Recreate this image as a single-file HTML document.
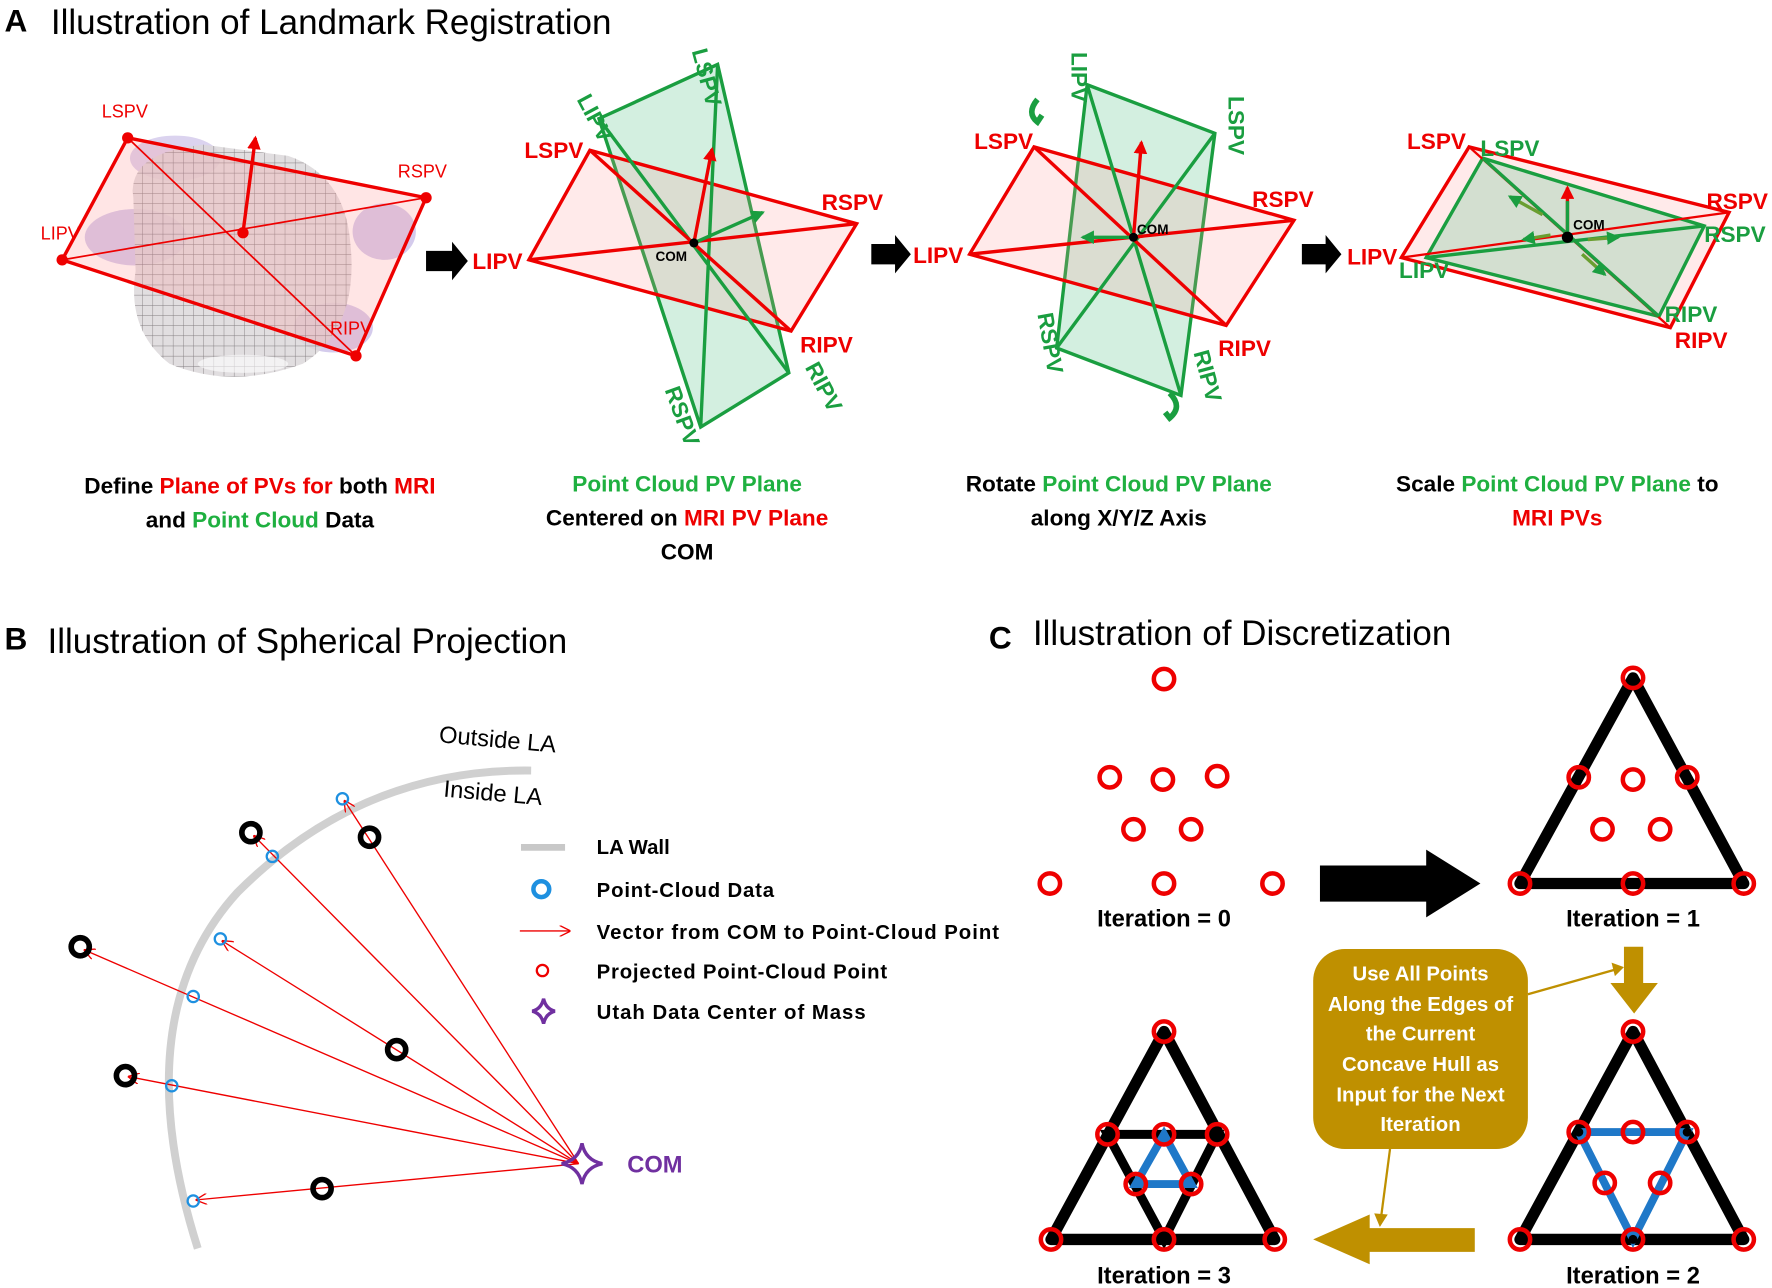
<!DOCTYPE html>
<html><head><meta charset="utf-8"><style>
html,body{margin:0;padding:0;background:#fff;}
svg{display:block;}
text{font-family:"Liberation Sans",sans-serif;}
</style></head><body>
<svg width="1772" height="1288" viewBox="0 0 1568 1140" preserveAspectRatio="none" xmlns="http://www.w3.org/2000/svg">
<defs>
<marker id="ra" markerWidth="10" markerHeight="10" refX="9" refY="5" orient="auto" markerUnits="userSpaceOnUse"><path d="M0,0 L10,5 L0,10" fill="none" stroke="#e00" stroke-width="1.2"/></marker>
<marker id="rb" markerWidth="12" markerHeight="12" refX="10" refY="6" orient="auto" markerUnits="userSpaceOnUse"><path d="M0,0 L12,6 L0,12 z" fill="#e00"/></marker>
<marker id="gb" markerWidth="12" markerHeight="12" refX="10" refY="6" orient="auto" markerUnits="userSpaceOnUse"><path d="M0,0 L12,6 L0,12 z" fill="#1a9e40"/></marker>
<pattern id="grid" width="9" height="9" patternUnits="userSpaceOnUse"><rect width="9" height="9" fill="#dcd8da"/><path d="M0,0 L9,0 M0,0 L0,9" stroke="#6a6468" stroke-width="0.8"/></pattern>
</defs>

<!-- Panel A -->
<text x="4" y="28" font-size="28" font-weight="bold">A</text>
<text x="45" y="30" font-size="31">Illustration of Landmark Registration</text>

<!-- sub 1 -->
<ellipse cx="120" cy="210" rx="45" ry="25" fill="#b8a8e0" opacity="0.6"/>
<ellipse cx="340" cy="205" rx="28" ry="25" fill="#b8a8e0" opacity="0.6"/>
<ellipse cx="295" cy="290" rx="35" ry="22" fill="#b8a8e0" opacity="0.6"/>
<ellipse cx="155" cy="140" rx="40" ry="20" fill="#b8a8e0" opacity="0.5"/>
<path d="M118,175 Q112,135 180,128 L255,138 Q305,155 310,215 Q318,290 268,322 Q205,345 150,322 Q112,292 120,240 Z" fill="url(#grid)" opacity="0.85"/>
<ellipse cx="215" cy="322" rx="40" ry="8" fill="#fff" opacity="0.6"/>
<g stroke="#e00" stroke-width="3" fill="rgba(255,150,150,0.25)">
<polygon points="113,122 377,175 315,315 55,230"/>
</g>
<g stroke="#e00" stroke-width="1.5"><line x1="113" y1="122" x2="315" y2="315"/><line x1="55" y1="230" x2="377" y2="175"/></g>
<line x1="215" y1="206" x2="226" y2="122" stroke="#e00" stroke-width="3" marker-end="url(#rb)"/>
<g fill="#e00"><circle cx="113" cy="122" r="5"/><circle cx="377" cy="175" r="5"/><circle cx="315" cy="315" r="5"/><circle cx="55" cy="230" r="5"/><circle cx="215" cy="206" r="5"/></g>
<g fill="#e00" font-size="16"><text x="90" y="104">LSPV</text><text x="352" y="157">RSPV</text><text x="36" y="212">LIPV</text><text x="292" y="296">RIPV</text></g>

<polygon points="377,222 400,222 400,214 414,231 400,248 400,240 377,240" fill="#000"/>

<!-- sub 2 -->
<polygon points="530,105 635,57 698,330 620,378" fill="rgba(80,190,130,0.25)" stroke="#1a9e40" stroke-width="3"/>
<polygon points="522,133 758,198 700,293 468,230" fill="rgba(255,150,150,0.2)" stroke="#e00" stroke-width="3"/>
<g stroke="#1a9e40" stroke-width="3"><line x1="530" y1="105" x2="698" y2="330"/><line x1="635" y1="57" x2="620" y2="378"/></g>
<g stroke="#e00" stroke-width="3"><line x1="522" y1="133" x2="700" y2="293"/><line x1="468" y1="230" x2="758" y2="198"/></g>
<line x1="614" y1="215" x2="630" y2="132" stroke="#e00" stroke-width="3" marker-end="url(#rb)"/>
<line x1="614" y1="215" x2="675" y2="188" stroke="#1a9e40" stroke-width="3" marker-end="url(#gb)"/>
<circle cx="614" cy="215" r="4"/>
<text x="580" y="231" font-size="12" font-weight="bold">COM</text>
<g fill="#e00" font-size="20" font-weight="bold"><text x="464" y="140">LSPV</text><text x="727" y="186">RSPV</text><text x="418" y="238">LIPV</text><text x="708" y="312">RIPV</text></g>
<g fill="#1a9e40" font-size="20" font-weight="bold">
<text transform="translate(612,45) rotate(75)">LSPV</text>
<text transform="translate(510,88) rotate(62)">LIPV</text>
<text transform="translate(588,345) rotate(70)">RSPV</text>
<text transform="translate(712,325) rotate(62)">RIPV</text></g>

<polygon points="771,216 792,216 792,208 806,225 792,242 792,234 771,234" fill="#000"/>

<!-- sub 3 -->
<polygon points="962,75 1075,118 1045,350 935,308" fill="rgba(80,190,130,0.25)" stroke="#1a9e40" stroke-width="3"/>
<polygon points="915,130 1145,195 1085,288 858,225" fill="rgba(255,150,150,0.2)" stroke="#e00" stroke-width="3"/>
<g stroke="#1a9e40" stroke-width="3"><line x1="962" y1="75" x2="1045" y2="350"/><line x1="1075" y1="118" x2="935" y2="308"/></g>
<g stroke="#e00" stroke-width="3"><line x1="915" y1="130" x2="1085" y2="288"/><line x1="858" y1="225" x2="1145" y2="195"/></g>
<line x1="1003" y1="210" x2="1010" y2="126" stroke="#e00" stroke-width="3" marker-end="url(#rb)"/>
<line x1="1003" y1="210" x2="958" y2="210" stroke="#1a9e40" stroke-width="3" marker-end="url(#gb)"/>
<circle cx="1003" cy="210" r="4"/>
<text x="1006" y="207" font-size="12" font-weight="bold">COM</text>
<path d="M918,88 q-10,12 0,20 l4,-6" fill="none" stroke="#1a9e40" stroke-width="5"/>
<path d="M1035,348 q12,12 0,22 l-4,-5" fill="none" stroke="#1a9e40" stroke-width="5"/>
<g fill="#e00" font-size="20" font-weight="bold"><text x="862" y="132">LSPV</text><text x="1108" y="183">RSPV</text><text x="808" y="233">LIPV</text><text x="1078" y="315">RIPV</text></g>
<g fill="#1a9e40" font-size="20" font-weight="bold">
<text transform="translate(948,46) rotate(90)">LIPV</text>
<text transform="translate(1087,85) rotate(90)">LSPV</text>
<text transform="translate(918,278) rotate(80)">RSPV</text>
<text transform="translate(1056,312) rotate(75)">RIPV</text></g>

<polygon points="1152,216 1173,216 1173,208 1187,225 1173,242 1173,234 1152,234" fill="#000"/>

<!-- sub 4 -->
<polygon points="1300,130 1530,188 1478,290 1240,228" fill="rgba(255,150,150,0.2)" stroke="#e00" stroke-width="3"/>
<polygon points="1312,140 1508,200 1468,280 1262,228" fill="rgba(80,190,130,0.25)" stroke="#1a9e40" stroke-width="3"/>
<g stroke="#e00" stroke-width="2"><line x1="1300" y1="130" x2="1478" y2="290"/><line x1="1240" y1="228" x2="1530" y2="188"/></g>
<g stroke="#1a9e40" stroke-width="3"><line x1="1312" y1="140" x2="1468" y2="280"/><line x1="1262" y1="228" x2="1508" y2="200"/></g>
<g stroke="#6a9e30" stroke-width="3"><line x1="1365" y1="190" x2="1336" y2="174" marker-end="url(#gb)"/><line x1="1372" y1="208" x2="1348" y2="212" marker-end="url(#gb)"/><line x1="1400" y1="225" x2="1420" y2="243" marker-end="url(#gb)"/><line x1="1405" y1="212" x2="1432" y2="210" marker-end="url(#gb)"/></g>
<line x1="1387" y1="210" x2="1387" y2="166" stroke="#e00" stroke-width="3" marker-end="url(#rb)"/>
<line x1="1387" y1="210" x2="1387" y2="178" stroke="#1a9e40" stroke-width="3"/>
<circle cx="1387" cy="210" r="5"/>
<text x="1392" y="203" font-size="12" font-weight="bold">COM</text>
<g fill="#e00" font-size="20" font-weight="bold"><text x="1245" y="132">LSPV</text><text x="1510" y="185">RSPV</text><text x="1192" y="234">LIPV</text><text x="1482" y="308">RIPV</text></g>
<g fill="#1a9e40" font-size="20" font-weight="bold"><text x="1310" y="138">LSPV</text><text x="1508" y="214">RSPV</text><text x="1238" y="246">LIPV</text><text x="1473" y="285">RIPV</text></g>

<!-- captions -->
<g font-size="20" font-weight="bold" text-anchor="middle">
<text x="230" y="437">Define <tspan fill="#e00">Plane of PVs for</tspan> both <tspan fill="#e00">MRI</tspan></text>
<text x="230" y="467">and <tspan fill="#1fb040">Point Cloud</tspan> Data</text>
<text x="608" y="435" fill="#1fb040">Point Cloud PV Plane</text>
<text x="608" y="465">Centered on <tspan fill="#e00">MRI PV Plane</tspan></text>
<text x="608" y="495">COM</text>
<text x="990" y="435">Rotate <tspan fill="#1fb040">Point Cloud PV Plane</tspan></text>
<text x="990" y="465">along X/Y/Z Axis</text>
<text x="1378" y="435">Scale <tspan fill="#1fb040">Point Cloud PV Plane</tspan> to</text>
<text x="1378" y="465" fill="#e00">MRI PVs</text>
</g>

<!-- Panel B -->
<text x="4" y="575" font-size="28" font-weight="bold">B</text>
<text x="42" y="578" font-size="31">Illustration of Spherical Projection</text>
<path d="M175,1105 Q110,900 210,790 Q320,680 470,682" fill="none" stroke="#d0d0d0" stroke-width="7"/>
<text transform="translate(388,657) rotate(5)" font-size="21">Outside LA</text>
<text transform="translate(392,705) rotate(5)" font-size="21">Inside LA</text>
<g stroke="#e00" stroke-width="1.2" marker-end="url(#ra)">
<line x1="512" y1="1030" x2="305" y2="709"/>
<line x1="512" y1="1030" x2="225" y2="740"/>
<line x1="512" y1="1030" x2="197" y2="833"/>
<line x1="512" y1="1030" x2="75" y2="841"/>
<line x1="512" y1="1030" x2="114" y2="953"/>
<line x1="512" y1="1030" x2="174" y2="1062"/>
</g>
<g fill="none" stroke="#000" stroke-width="5">
<circle cx="222" cy="737" r="8"/><circle cx="327" cy="741" r="8"/><circle cx="71" cy="838" r="8"/><circle cx="351" cy="929" r="8"/><circle cx="111" cy="952" r="8"/><circle cx="285" cy="1052" r="8"/></g>
<g fill="none" stroke="#1e90e0" stroke-width="2">
<circle cx="303" cy="707" r="5"/><circle cx="241" cy="758" r="5"/><circle cx="195" cy="831" r="5"/><circle cx="171" cy="882" r="5"/><circle cx="152" cy="961" r="5"/><circle cx="171" cy="1063" r="5"/></g>
<path d="M515,1012 Q518,1027 533,1030 Q518,1033 515,1048 Q512,1033 497,1030 Q512,1027 515,1012z" fill="none" stroke="#7030a0" stroke-width="3"/>
<text x="555" y="1038" font-size="21" font-weight="bold" fill="#7030a0">COM</text>
<line x1="461" y1="750" x2="500" y2="750" stroke="#c8c8c8" stroke-width="6"/>
<circle cx="479" cy="787" r="7" fill="none" stroke="#1e90e0" stroke-width="4"/>
<line x1="460" y1="824" x2="504" y2="824" stroke="#e00" stroke-width="1.2" marker-end="url(#ra)"/>
<circle cx="480" cy="859" r="5" fill="none" stroke="#e00" stroke-width="2"/>
<path d="M481,884 Q483,893 491,895 Q483,897 481,906 Q479,897 471,895 Q479,893 481,884z" fill="none" stroke="#7030a0" stroke-width="3"/>
<g font-size="18" font-weight="bold"><text x="528" y="756">LA Wall</text><text x="528" y="794" textLength="157">Point-Cloud  Data</text><text x="528" y="831" textLength="356">Vector from COM to Point-Cloud  Point</text><text x="528" y="866" textLength="257">Projected Point-Cloud  Point</text><text x="528" y="902" textLength="238">Utah Data Center of Mass</text></g>

<!-- Panel C -->
<text x="875" y="574" font-size="28" font-weight="bold">C</text>
<text x="914" y="571" font-size="31">Illustration of Discretization</text>
<g fill="none" stroke="#e00" stroke-width="4">
<circle cx="1030" cy="601" r="9"/><circle cx="982" cy="688" r="9"/><circle cx="1029" cy="690" r="9"/><circle cx="1077" cy="687" r="9"/><circle cx="1003" cy="734" r="9"/><circle cx="1054" cy="734" r="9"/><circle cx="929" cy="782" r="9"/><circle cx="1030" cy="782" r="9"/><circle cx="1126" cy="782" r="9"/></g>
<polygon points="1168,766 1262,766 1262,752 1310,782 1262,812 1262,798 1168,798" fill="#000"/>
<!-- it1 -->
<polygon points="1445,600 1345,782 1543,782" fill="none" stroke="#000" stroke-width="10" stroke-linejoin="round"/>
<g fill="#000"><circle cx="1445" cy="600" r="4"/><circle cx="1345" cy="782" r="4"/><circle cx="1543" cy="782" r="4"/><circle cx="1397" cy="688" r="4"/><circle cx="1493" cy="688" r="4"/><circle cx="1445" cy="782" r="4"/></g>
<g fill="none" stroke="#e00" stroke-width="4"><circle cx="1445" cy="600" r="9"/><circle cx="1345" cy="782" r="9"/><circle cx="1543" cy="782" r="9"/><circle cx="1397" cy="688" r="9"/><circle cx="1493" cy="688" r="9"/><circle cx="1445" cy="782" r="9"/><circle cx="1445" cy="690" r="9"/><circle cx="1418" cy="734" r="9"/><circle cx="1469" cy="734" r="9"/></g>
<!-- it2 -->
<polygon points="1445,913 1345,1097 1543,1097" fill="none" stroke="#000" stroke-width="10" stroke-linejoin="round"/>
<polyline points="1397,1002 1493,1002 1445,1097 1397,1002" fill="none" stroke="#1f78c8" stroke-width="7"/>
<g fill="#000"><circle cx="1445" cy="913" r="4"/><circle cx="1345" cy="1097" r="4"/><circle cx="1543" cy="1097" r="4"/><circle cx="1397" cy="1002" r="4"/><circle cx="1493" cy="1002" r="4"/><circle cx="1445" cy="1097" r="4"/></g>
<g fill="none" stroke="#e00" stroke-width="4"><circle cx="1445" cy="913" r="9"/><circle cx="1345" cy="1097" r="9"/><circle cx="1543" cy="1097" r="9"/><circle cx="1397" cy="1002" r="9"/><circle cx="1493" cy="1002" r="9"/><circle cx="1445" cy="1097" r="9"/><circle cx="1445" cy="1002" r="9"/><circle cx="1420" cy="1047" r="9"/><circle cx="1469" cy="1047" r="9"/></g>
<!-- it3 -->
<polygon points="1030,913 930,1097 1128,1097" fill="none" stroke="#000" stroke-width="10" stroke-linejoin="round"/>
<polygon points="980,1004 1077,1004 1030,1097" fill="none" stroke="#000" stroke-width="8"/>
<polygon points="1030,1004 1005,1048 1054,1048" fill="none" stroke="#1f78c8" stroke-width="7"/>
<g fill="#000"><circle cx="1030" cy="913" r="4"/><circle cx="930" cy="1097" r="4"/><circle cx="1128" cy="1097" r="4"/><circle cx="980" cy="1004" r="4"/><circle cx="1077" cy="1004" r="4"/><circle cx="1030" cy="1097" r="4"/></g>
<g fill="none" stroke="#e00" stroke-width="4"><circle cx="1030" cy="913" r="9"/><circle cx="930" cy="1097" r="9"/><circle cx="1128" cy="1097" r="9"/><circle cx="980" cy="1004" r="9"/><circle cx="1077" cy="1004" r="9"/><circle cx="1030" cy="1097" r="9"/><circle cx="1030" cy="1004" r="9"/><circle cx="1005" cy="1048" r="9"/><circle cx="1054" cy="1048" r="9"/></g>
<!-- gold -->
<rect x="1162" y="840" width="190" height="177" rx="28" fill="#bf9000"/>
<g fill="#fff" font-size="18" font-weight="bold" text-anchor="middle"><text x="1257" y="868">Use All Points</text><text x="1257" y="895">Along the Edges of</text><text x="1257" y="921">the Current</text><text x="1257" y="948">Concave Hull as</text><text x="1257" y="975">Input for the Next</text><text x="1257" y="1001">Iteration</text></g>
<polygon points="1437,838 1454,838 1454,870 1467,870 1446,897 1425,870 1437,870" fill="#bf9000"/>
<line x1="1352" y1="880" x2="1430" y2="858" stroke="#bf9000" stroke-width="2"/>
<polygon points="1426,852 1437,856 1429,864" fill="#bf9000"/>
<polygon points="1305,1087 1212,1087 1212,1075 1162,1097 1212,1119 1212,1108 1305,1108" fill="#bf9000"/>
<line x1="1230" y1="1017" x2="1222" y2="1078" stroke="#bf9000" stroke-width="2"/>
<polygon points="1216,1074 1228,1075 1221,1086" fill="#bf9000"/>
<g font-size="21" font-weight="bold" text-anchor="middle"><text x="1030" y="820">Iteration = 0</text><text x="1445" y="820">Iteration = 1</text><text x="1030" y="1136">Iteration = 3</text><text x="1445" y="1136">Iteration = 2</text></g>
</svg>
</body></html>
